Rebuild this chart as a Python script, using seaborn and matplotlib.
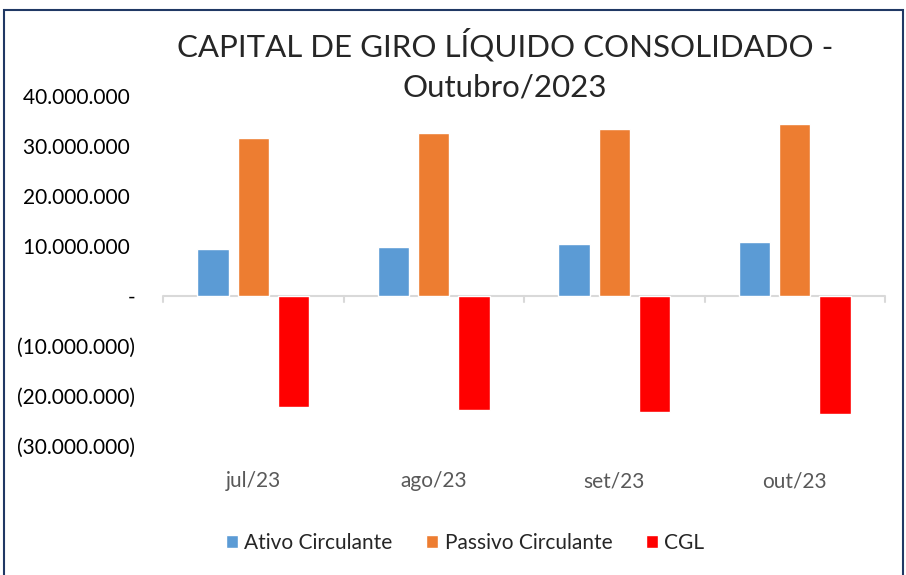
import numpy as np
import pandas as pd
import matplotlib.pyplot as plt
import seaborn as sns
from matplotlib.patches import Rectangle, Patch

# dados (R$)
meses = ['jul/23', 'ago/23', 'set/23', 'out/23']
ativo = [9450000, 9900000, 10400000, 10900000]
passivo = [31700000, 32700000, 33500000, 34500000]
cgl = [-22250000, -22800000, -23100000, -23600000]
series = ['Ativo Circulante', 'Passivo Circulante', 'CGL']
cores = ['#5B9BD5', '#ED7D31', '#FF0000']
yticks = [40000000, 30000000, 20000000, 10000000, 0,
          -10000000, -20000000, -30000000]

df = pd.DataFrame({'mes': meses * 3,
                   'serie': np.repeat(series, len(meses)),
                   'valor': ativo + passivo + cgl})

sns.set_style('white')
plt.rcParams['font.family'] = ['Lato', 'DejaVu Sans']

fig = plt.figure(figsize=[9.06, 5.75], dpi=100)
ax = fig.add_axes([163/906, 1 - 446/575, (885 - 163)/906, (446 - 96)/575])

sns.barplot(data=df, x='mes', y='valor', hue='serie', palette=cores,
            width=0.667, gap=0.22, ax=ax, legend=False, saturation=1)

ax.set_ylim(-30000000, 40000000)
ax.set_xlim(-0.5, len(meses) - 0.5)
for s in ax.spines.values():
    s.set_visible(False)

# linha do zero com marcas entre categorias
ax.axhline(0, color='#D9D9D9', lw=1.5, zorder=0)
for i in range(len(meses) + 1):
    ax.plot([i - 0.5, i - 0.5], [0, -1100000], color='#D9D9D9', lw=1.5,
            clip_on=False, zorder=0)


def fmt(v):
    if v == 0:
        return '-'
    s = f'{abs(v):,.0f}'.replace(',', '.')
    return f'({s})' if v < 0 else s + ' '


ax.set_yticks(yticks)
ax.set_yticklabels([fmt(v) for v in yticks], fontsize=15, color='#000000')
ax.tick_params(axis='y', length=0, pad=20)
ax.tick_params(axis='x', length=0, pad=18, labelsize=15, labelcolor='#595959')
ax.set_xlabel('')
ax.set_ylabel('')

fig.text(505/906, 1 - 45/575, 'CAPITAL DE GIRO LÍQUIDO CONSOLIDADO -',
         ha='center', va='center', fontsize=22.5)
fig.text(505/906, 1 - 88/575, 'Outubro/2023',
         ha='center', va='center', fontsize=22.5)

handles = [Patch(facecolor=c, label=l) for c, l in zip(cores, series)]
fig.legend(handles=handles, loc='center', bbox_to_anchor=(465/906, 1 - 543/575),
           ncol=3, frameon=False, fontsize=15, handlelength=0.6,
           handleheight=0.6, handletextpad=0.3, columnspacing=1.6)

fig.add_artist(Rectangle((4/906, -0.01), (903 - 4)/906, 1 - 10/575 + 0.01,
                         transform=fig.transFigure, fill=False,
                         edgecolor='#203864', lw=1.5))

fig.savefig('out.png', dpi=100)
